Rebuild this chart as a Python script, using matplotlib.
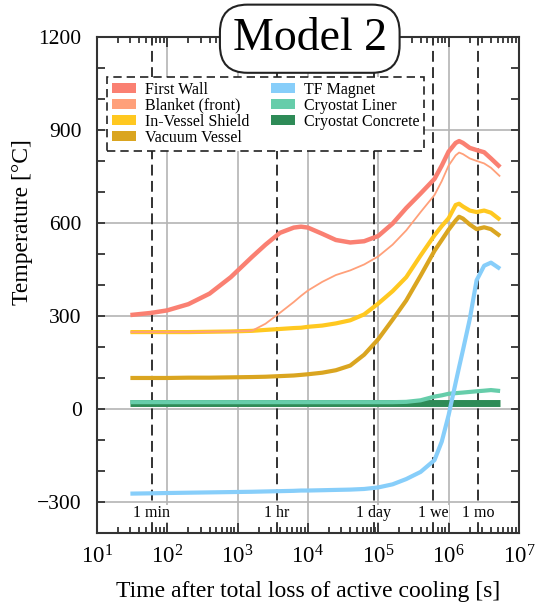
import matplotlib
matplotlib.use("Agg")
import matplotlib.pyplot as plt
from matplotlib.ticker import LogLocator, MultipleLocator, NullFormatter, LogFormatterMathtext
from matplotlib.patches import Patch

plt.rcParams["font.family"] = ["Liberation Serif", "DejaVu Serif"]
plt.rcParams["mathtext.fontset"] = "custom"
plt.rcParams["mathtext.rm"] = "Liberation Serif"
plt.rcParams["mathtext.it"] = "Liberation Serif:italic"
plt.rcParams["mathtext.bf"] = "Liberation Serif:bold"

# time after loss of cooling [s]
time_s = [30, 60, 100, 200, 400, 800, 1600, 2500, 4000, 6300, 8000, 10000,
          16000, 25000, 40000, 63000, 1e5, 1.6e5, 2.5e5, 4e5, 6.3e5, 8e5,
          1e6, 1.26e6, 1.41e6, 1.6e6, 2e6, 2.5e6, 3.2e6, 4e6, 5.4e6]

# temperatures [C]
first_wall = [303, 310, 318, 338, 372, 425, 490, 530, 568, 585, 588, 585,
              565, 545, 537, 541, 558, 598, 648, 695, 742, 785,
              830, 858, 864, 858, 842, 835, 828, 808, 780]
blanket = [248, 248, 248, 248, 249, 250, 252, 275, 310, 345, 365, 382,
           410, 432, 447, 466, 492, 530, 576, 635, 690, 735,
           785, 818, 827, 822, 808, 800, 792, 778, 750]
shield = [248, 248, 248, 248, 249, 250, 252, 255, 258, 261, 262, 265,
          269, 276, 286, 305, 340, 380, 425, 495, 560, 590,
          615, 658, 662, 653, 640, 635, 640, 633, 610]
vacuum_vessel = [100, 100, 100, 101, 101, 102, 103, 104, 106, 108, 110, 112,
                 117, 125, 140, 175, 225, 288, 350, 430, 510, 545,
                 578, 608, 620, 614, 595, 580, 586, 580, 558]
tf_magnet = [-273, -272, -271, -270, -269, -268, -267, -266, -265, -264, -263, -263,
             -262, -261, -260, -258, -253, -243, -226, -203, -165, -105,
             -20, 85, 135, 190, 290, 415, 462, 472, 452]
cryo_liner = [22, 22, 22, 22, 22, 22, 22, 22, 22, 22, 22, 22,
              22, 22, 22, 22, 22, 22, 23, 28, 40, 44,
              49, 51, 52, 53, 55, 57, 59, 61, 58]
cryo_concrete = [20] * len(time_s)

event_times = [60, 3600, 86400, 604800, 2.63e6]
event_names = ["1 min", "1 hr", "1 day", "1 we", "1 mo"]

fig = plt.figure(figsize=(5.35, 6.05), dpi=100)
ax = fig.add_axes([0.181, 0.119, 0.789, 0.820])

ax.set_xscale("log")
ax.set_xlim(10, 1e7)
ax.set_ylim(-400, 1200)

# grid
for xg in [1e2, 1e3, 1e4, 1e5, 1e6]:
    ax.axvline(xg, color="#b4b4b4", lw=1.2, zorder=0)
for yg in [-300, 0, 300, 600, 900]:
    ax.axhline(yg, color="#b4b4b4", lw=1.2, zorder=0)

# time markers
for t, name in zip(event_times, event_names):
    ax.axvline(t, color="#222222", lw=1.3, ls=(0, (6, 3)), zorder=1)
    ax.text(t, -337, name, ha="center", va="center", fontsize=11.5,
            bbox=dict(facecolor="white", edgecolor="none", pad=0.5), zorder=2)

series = [
    ("Cryostat Concrete", cryo_concrete, "#2e8b57", 5.0),
    ("Cryostat Liner", cryo_liner, "#66cdaa", 3.0),
    ("TF Magnet", tf_magnet, "#87cefa", 3.0),
    ("Vacuum Vessel", vacuum_vessel, "#daa520", 3.0),
    ("In-Vessel Shield", shield, "#ffc820", 3.0),
    ("Blanket (front)", blanket, "#ffa07a", 1.3),
    ("First Wall", first_wall, "#fa8072", 3.2),
]
for name, vals, col, lw in series:
    ax.plot(time_s, vals, color=col, lw=lw, solid_capstyle="butt", zorder=3)

legend_order = ["First Wall", "Blanket (front)", "In-Vessel Shield", "Vacuum Vessel",
                "TF Magnet", "Cryostat Liner", "Cryostat Concrete"]
colors = {name: col for name, _, col, _ in series}
handles = [Patch(facecolor=colors[n], edgecolor="none", label=n) for n in legend_order]
leg = ax.legend(handles=handles, ncol=2, loc="upper left",
                bbox_to_anchor=(0.024, 0.919), borderaxespad=0,
                fontsize=11.5, handlelength=1.5, handleheight=0.55,
                handletextpad=0.55, labelspacing=0.0, columnspacing=1.4,
                borderpad=0.3, fancybox=False, framealpha=1)
leg.get_frame().set_edgecolor("#222222")
leg.get_frame().set_linestyle((0, (5, 3)))
leg.get_frame().set_linewidth(1.2)
leg.set_zorder(5)

# ticks
ax.xaxis.set_major_locator(LogLocator(base=10, numticks=10))
ax.xaxis.set_minor_locator(LogLocator(base=10, subs=range(2, 10), numticks=100))
ax.xaxis.set_major_formatter(LogFormatterMathtext())
ax.xaxis.set_minor_formatter(NullFormatter())
ax.yaxis.set_major_locator(MultipleLocator(300))
ax.yaxis.set_minor_locator(MultipleLocator(100))
ax.tick_params(axis="both", which="both", direction="in", top=True, right=True,
               color="#333333", width=1.3)
ax.tick_params(axis="x", which="major", length=7, labelsize=16.5, pad=9)
ax.tick_params(axis="x", which="minor", length=4.5)
ax.tick_params(axis="y", which="both", length=6, labelsize=15.5, pad=11)
for sp in ax.spines.values():
    sp.set_color("#333333")
    sp.set_linewidth(1.5)

ax.set_xlabel("Time after total loss of active cooling [s]", fontsize=17, labelpad=9)
ax.set_ylabel("Temperature [°C]", fontsize=17)
ax.yaxis.set_label_coords(-0.152, 0.627)

fig.text(0.579, 0.936, "Model 2", ha="center", va="center", fontsize=33,
         bbox=dict(boxstyle="round,pad=0.28,rounding_size=0.6",
                   facecolor="white", edgecolor="#222222", linewidth=1.5),
         zorder=10)

fig.savefig("out.png", dpi=100)
